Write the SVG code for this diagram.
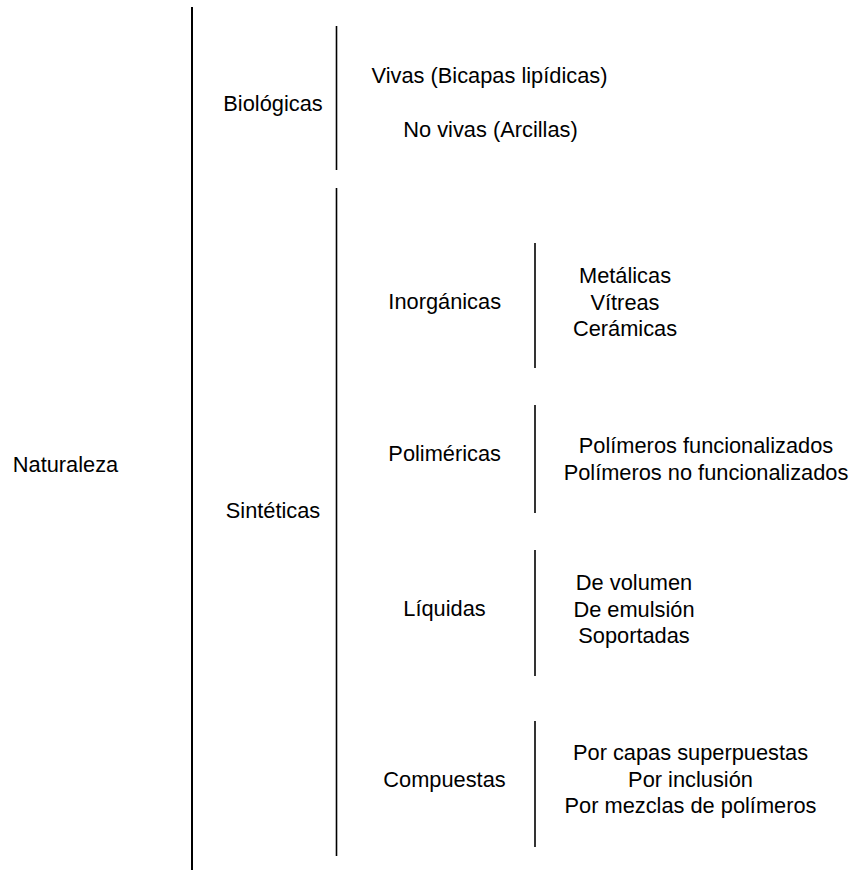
<svg xmlns="http://www.w3.org/2000/svg" width="853" height="870" viewBox="0 0 853 870">
<style>
text{font-family:"Liberation Sans",Arial,sans-serif;font-size:21.8px;fill:#000;text-anchor:middle}
.l{stroke:#000;stroke-width:1.6;fill:none}
.main{stroke-width:2}
</style>
<rect width="853" height="870" fill="#fff"/>
<g id="connectors">
<line class="l main" x1="192" y1="7" x2="192" y2="870"/>
<line class="l" x1="336.5" y1="26" x2="336.5" y2="170"/>
<line class="l" x1="336.5" y1="188" x2="336.5" y2="856"/>
<line class="l" x1="535" y1="243" x2="535" y2="368"/>
<line class="l" x1="535" y1="405" x2="535" y2="513"/>
<line class="l" x1="535" y1="550" x2="535" y2="676"/>
<line class="l" x1="535" y1="721" x2="535" y2="847"/>
</g>
<g id="naturaleza"><text x="65.5" y="472">Naturaleza</text></g>
<g id="biologicas"><text x="273" y="111">Biológicas</text></g>
<g id="vivas"><text x="489.5" y="83">Vivas (Bicapas lipídicas)</text></g>
<g id="novivas"><text x="490.5" y="137">No vivas (Arcillas)</text></g>
<g id="sinteticas"><text x="273" y="518">Sintéticas</text></g>
<g id="inorganicas"><text x="444.7" y="309">Inorgánicas</text></g>
<g id="inorganicas-tipos">
<text x="625" y="283">Metálicas</text>
<text x="625" y="309.5">Vítreas</text>
<text x="625" y="336">Cerámicas</text>
</g>
<g id="polimericas"><text x="444.7" y="461">Poliméricas</text></g>
<g id="polimericas-tipos">
<text x="706" y="453">Polímeros funcionalizados</text>
<text x="706" y="480">Polímeros no funcionalizados</text>
</g>
<g id="liquidas"><text x="444.5" y="616">Líquidas</text></g>
<g id="liquidas-tipos">
<text x="634" y="590">De volumen</text>
<text x="634" y="616.5">De emulsión</text>
<text x="634" y="643">Soportadas</text>
</g>
<g id="compuestas"><text x="444.5" y="787">Compuestas</text></g>
<g id="compuestas-tipos">
<text x="690.5" y="760">Por capas superpuestas</text>
<text x="690.5" y="786.5">Por inclusión</text>
<text x="690.5" y="813">Por mezclas de polímeros</text>
</g>
</svg>
